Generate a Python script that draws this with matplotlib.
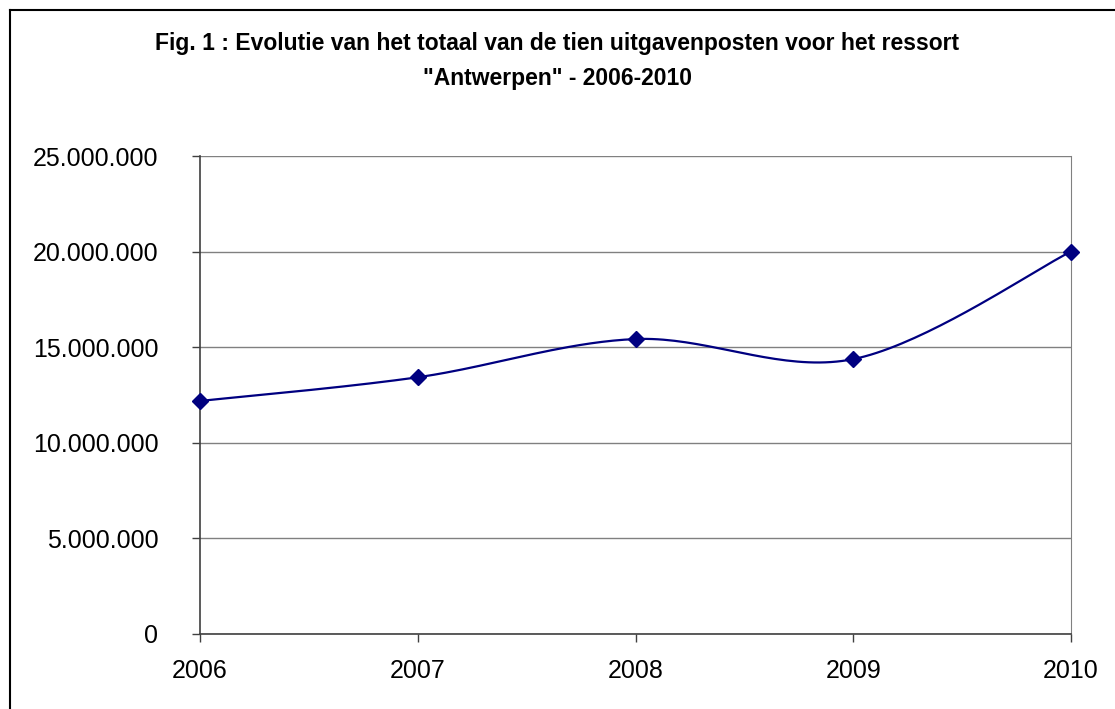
import numpy as np
import matplotlib
matplotlib.use("Agg")
import matplotlib.pyplot as plt
from matplotlib.ticker import FuncFormatter
from matplotlib.lines import Line2D

years = [2006, 2007, 2008, 2009, 2010]
totals = [12180000, 13420000, 15420000, 14370000, 20000000]
y_ticks = [0, 5000000, 10000000, 15000000, 20000000, 25000000]
title = 'Fig. 1 : Evolutie van het totaal van de tien uitgavenposten voor het ressort\n"Antwerpen" - 2006-2010'

plt.rcParams['font.family'] = ['Liberation Sans', 'DejaVu Sans']

W, H = 1115, 709
fig = plt.figure(figsize=(W / 100, H / 100), dpi=100)
ax = fig.add_axes([200 / W, 1 - 633.7 / H, (1071 - 200) / W, (633.7 - 156) / H])


def catmull_rom(xs, ys, n=40):
    xs = np.asarray(xs, float)
    ys = np.asarray(ys, float)
    px = np.concatenate([[xs[0]], xs, [xs[-1]]])
    py = np.concatenate([[ys[0]], ys, [ys[-1]]])
    outx, outy = [], []
    t = np.linspace(0, 1, n)
    for i in range(1, len(px) - 2):
        p0x, p1x, p2x, p3x = px[i - 1], px[i], px[i + 1], px[i + 2]
        p0y, p1y, p2y, p3y = py[i - 1], py[i], py[i + 1], py[i + 2]
        c1x = p1x + (p2x - p0x) / 6
        c1y = p1y + (p2y - p0y) / 6
        c2x = p2x - (p3x - p1x) / 6
        c2y = p2y - (p3y - p1y) / 6
        bx = (1 - t) ** 3 * p1x + 3 * (1 - t) ** 2 * t * c1x + 3 * (1 - t) * t ** 2 * c2x + t ** 3 * p2x
        by = (1 - t) ** 3 * p1y + 3 * (1 - t) ** 2 * t * c1y + 3 * (1 - t) * t ** 2 * c2y + t ** 3 * p2y
        outx.extend(bx)
        outy.extend(by)
    return np.array(outx), np.array(outy)


sx, sy = catmull_rom(years, totals)
ax.plot(sx, sy, color='#000080', lw=1.6, zorder=3, clip_on=False)
ax.plot(years, totals, linestyle='none', marker='D', markersize=8.5,
        color='#000080', zorder=4, clip_on=False)

ax.set_xlim(years[0], years[-1])
ax.set_ylim(0, 25000000)
ax.set_xticks(years)
ax.set_yticks(y_ticks)
ax.yaxis.set_major_formatter(FuncFormatter(lambda v, p: f"{int(v):,}".replace(",", ".")))
ax.grid(axis='y', color='#808080', lw=1.0)
ax.set_axisbelow(True)

ax.spines['top'].set_visible(False)
ax.spines['right'].set_color('#808080')
ax.spines['left'].set_color('#404040')
ax.spines['bottom'].set_color('#404040')
ax.spines['left'].set_linewidth(1.2)
ax.spines['bottom'].set_linewidth(1.2)

ax.tick_params(axis='y', direction='out', length=6, width=1, color='#404040',
               labelsize=18, pad=24)
ax.tick_params(axis='x', direction='out', length=6, width=1, color='#404040',
               labelsize=18, pad=12)

fig.text(0.5, 1 - 61 / H, title, ha='center', va='center', fontsize=16.5,
         fontweight='bold', linespacing=1.7)

# outer chart frame (top and left edges visible)
fig.add_artist(Line2D([9.5 / W, 1], [1 - 9.5 / H, 1 - 9.5 / H], transform=fig.transFigure,
                      color='black', lw=1.5))
fig.add_artist(Line2D([9.5 / W, 9.5 / W], [0, 1 - 9.5 / H], transform=fig.transFigure,
                      color='black', lw=1.5))

fig.savefig('out.png', dpi=100)
